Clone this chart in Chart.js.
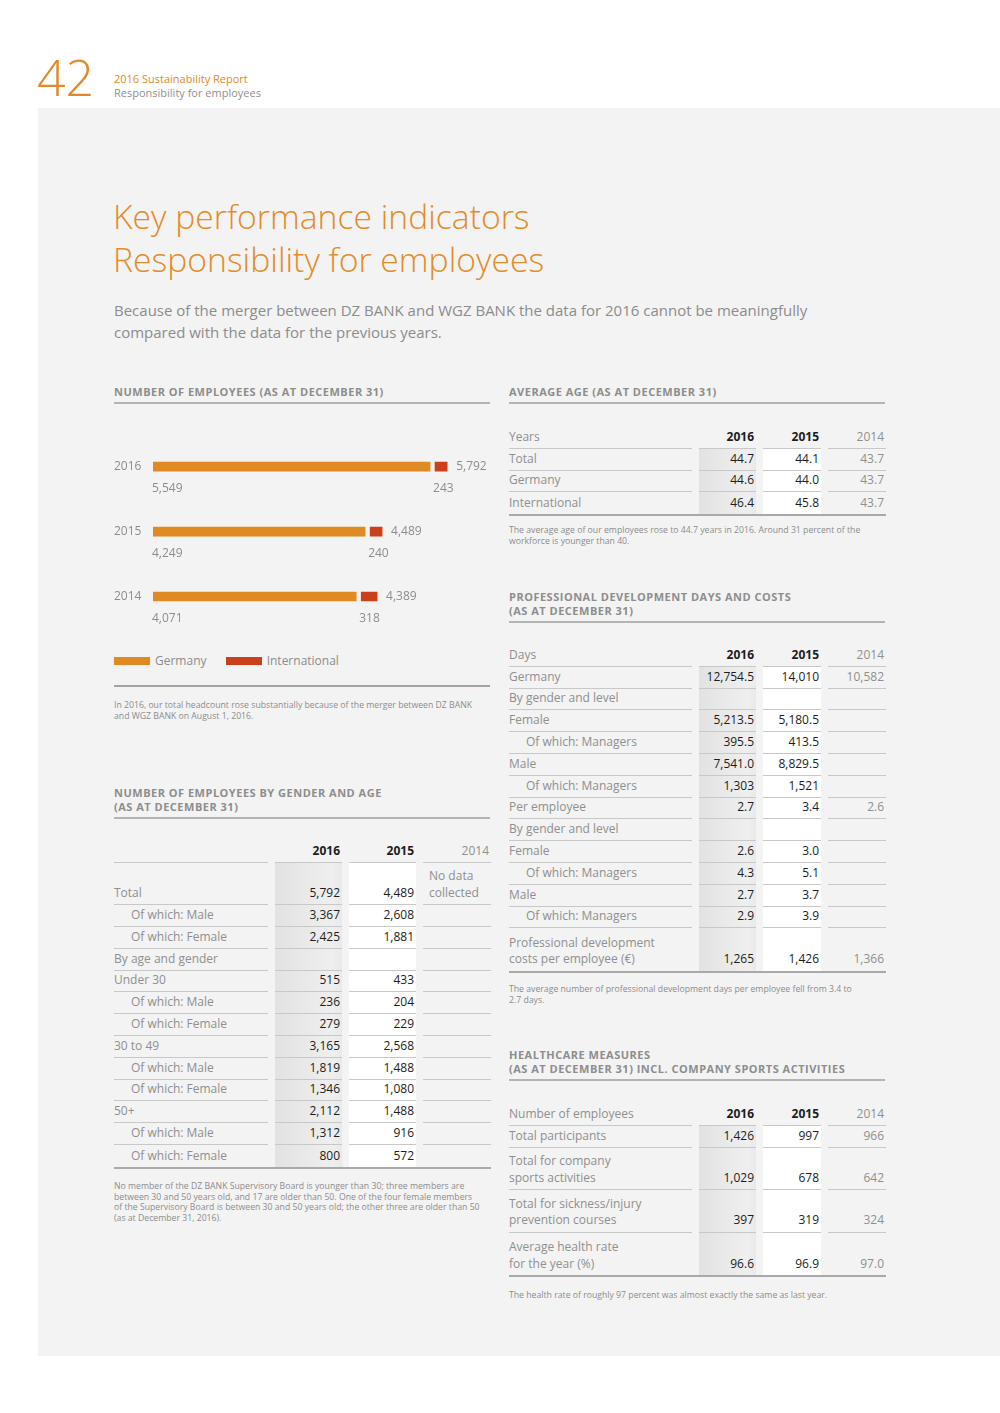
<!DOCTYPE html>
<html>
<head>
<meta charset="utf-8">
<title>Key performance indicators - Responsibility for employees</title>
<script src="https://cdn.jsdelivr.net/npm/chart.js@4.4.0/dist/chart.umd.min.js"></script>
<style>
body { margin: 0; background: #fff; font-family: "Open Sans", sans-serif; }
#page { position: relative; width: 1000px; height: 1413px; overflow: hidden; }
.panel { position: absolute; left: 38px; top: 108px; width: 962px; height: 1248px; background: #f3f3f3; }
.abs { position: absolute; }
.pageno { left: 37px; top: 49px; font-size: 50px; font-weight: 300; color: #e0892a; line-height: 56px; }
.runhead { left: 114px; top: 72px; font-size: 11px; line-height: 14px; color: #8f8f8f; }
.runhead .o { color: #e0892a; }
.title { left: 113px; top: 195px; font-size: 33.7px; font-weight: 300; line-height: 43px; color: #e48c2a; }
.intro { left: 114px; top: 299px; font-size: 15px; line-height: 22px; color: #8c8c8c; }
.sechead { font-size: 11px; letter-spacing: 0.5px; font-weight: bold; line-height: 14px; color: #8d8d8d; width: 376px; padding-bottom: 3px; border-bottom: 2px solid #b4b4b4; }
.note { font-size: 8.7px; line-height: 10.7px; color: #8c8c8c; width: 390px; }
.legend { left: 114px; top: 652px; font-size: 12px; color: #8c8c8c; line-height: 18px; }
.legend span.box { display: inline-block; width: 36px; height: 8px; vertical-align: middle; margin-right: 5px; position: relative; top: -1px; }
.divider { left: 114px; top: 685px; width: 376px; height: 2px; background: #a3a3a3; }
table.kpi { border-collapse: separate; border-spacing: 7px 0; margin-left: -7px; table-layout: fixed; width: 391px; font-size: 12px; }
table.kpi td { box-sizing: border-box; height: 21.8px; padding: 0 2px 3px 0; vertical-align: bottom; line-height: 16px; border-bottom: 1.5px solid #c8c8c8; white-space: nowrap; }
table.kpi td.lb { color: #8f8f8f; text-align: left; }
table.kpi td.c16 { background: linear-gradient(to right, #e2e2e2, #efefef 85%, #e9e9e9); text-align: right; color: #1c1c1c; }
table.kpi td.c15 { background: #fff; text-align: right; color: #1c1c1c; }
table.kpi td.c14 { text-align: right; color: #8f8f8f; }
table.kpi tr.hd td { background: none; color: #1c1c1c; font-weight: bold; }
table.kpi tr.hd td.lb, table.kpi tr.hd td.c14 { font-weight: normal; color: #8f8f8f; }
table.kpi tr.in td.lb { padding-left: 17px; }
table.kpi tr.tw td { height: 42.5px; line-height: 16.5px; }
table.kpi tr.last td { border-bottom: none; }
table.kpi td.nodata { text-align: left; padding-left: 6px; }
.tblwrap { border-bottom: 2px solid #a9a9a9; width: 377px; }
</style>
</head>
<body>
<div id="page">
  <div class="abs pageno">42</div>
  <div class="abs runhead"><span class="o">2016 Sustainability Report</span><br>Responsibility for employees</div>
  <div class="panel"></div>

  <div class="abs title">Key performance indicators<br>Responsibility for employees</div>
  <div class="abs intro">Because of the merger between DZ BANK and WGZ BANK the data for 2016 cannot be meaningfully<br>compared with the data for the previous years.</div>

  <!-- left column -->
  <div class="abs sechead" style="left:114px; top:385px;">NUMBER OF EMPLOYEES (AS AT DECEMBER 31)</div>
  <div class="abs" style="left:114px; top:427px; width:376px; height:210px;"><canvas id="empChart"></canvas></div>
  <div class="abs legend">
    <span class="box" style="background:#df8a22"></span>Germany
    <span class="box" style="background:#cb3f1a; margin-left:16px"></span>International
  </div>
  <div class="abs divider"></div>
  <div class="abs note" style="left:114px; top:700px;">In 2016, our total headcount rose substantially because of the merger between DZ BANK<br>and WGZ BANK on August 1, 2016.</div>

  <div class="abs sechead" style="left:114px; top:786px;">NUMBER OF EMPLOYEES BY GENDER AND AGE<br>(AS AT DECEMBER 31)</div>
  <div class="abs tblwrap" style="left:114px; top:841px;"><table class="kpi" id="tblGender"><colgroup><col style="width:154px"><col style="width:67px"><col style="width:67px"><col style="width:68px"></colgroup></table></div>
  <div class="abs note" style="left:114px; top:1181px;">No member of the DZ BANK Supervisory Board is younger than 30; three members are<br>between 30 and 50 years old, and 17 are older than 50. One of the four female members<br>of the Supervisory Board is between 30 and 50 years old; the other three are older than 50<br>(as at December 31, 2016).</div>

  <!-- right column -->
  <div class="abs sechead" style="left:509px; top:385px;">AVERAGE AGE (AS AT DECEMBER 31)</div>
  <div class="abs tblwrap" style="left:509px; top:427px;"><table class="kpi" id="tblAge"><colgroup><col style="width:183px"><col style="width:57px"><col style="width:58px"><col style="width:58px"></colgroup></table></div>
  <div class="abs note" style="left:509px; top:525px;">The average age of our employees rose to 44.7 years in 2016. Around 31 percent of the<br>workforce is younger than 40.</div>

  <div class="abs sechead" style="left:509px; top:590px;">PROFESSIONAL DEVELOPMENT DAYS AND COSTS<br>(AS AT DECEMBER 31)</div>
  <div class="abs tblwrap" style="left:509px; top:645px;"><table class="kpi" id="tblDays"><colgroup><col style="width:183px"><col style="width:57px"><col style="width:58px"><col style="width:58px"></colgroup></table></div>
  <div class="abs note" style="left:509px; top:984px;">The average number of professional development days per employee fell from 3.4 to<br>2.7 days.</div>

  <div class="abs sechead" style="left:509px; top:1048px;">HEALTHCARE MEASURES<br>(AS AT DECEMBER 31) INCL. COMPANY SPORTS ACTIVITIES</div>
  <div class="abs tblwrap" style="left:509px; top:1104px;"><table class="kpi" id="tblHealth"><colgroup><col style="width:183px"><col style="width:57px"><col style="width:58px"><col style="width:58px"></colgroup></table></div>
  <div class="abs note" style="left:509px; top:1290px;">The health rate of roughly 97 percent was almost exactly the same as last year.</div>
</div>

<script>
// ================== Chart data ==================
const years = ['2016', '2015', '2014'];
const germany = [5549, 4249, 4071];
const international = [243, 240, 318];
const totals = [5792, 4489, 4389];

// ================== Table data ==================
// [label, 2016, 2015, 2014, row class]
const genderRows = [
    ['Total', '5,792', '4,489', 'No data<br>collected', 'tw'],
    ['Of which: Male', '3,367', '2,608', '', 'in'],
    ['Of which: Female', '2,425', '1,881', '', 'in'],
    ['By age and gender', '', '', '', ''],
    ['Under 30', '515', '433', '', ''],
    ['Of which: Male', '236', '204', '', 'in'],
    ['Of which: Female', '279', '229', '', 'in'],
    ['30 to 49', '3,165', '2,568', '', ''],
    ['Of which: Male', '1,819', '1,488', '', 'in'],
    ['Of which: Female', '1,346', '1,080', '', 'in'],
    ['50+', '2,112', '1,488', '', ''],
    ['Of which: Male', '1,312', '916', '', 'in'],
    ['Of which: Female', '800', '572', '', 'in']
];
const ageRows = [
    ['Total', '44.7', '44.1', '43.7', ''],
    ['Germany', '44.6', '44.0', '43.7', ''],
    ['International', '46.4', '45.8', '43.7', '']
];
const daysRows = [
    ['Germany', '12,754.5', '14,010', '10,582', ''],
    ['By gender and level', '', '', '', ''],
    ['Female', '5,213.5', '5,180.5', '', ''],
    ['Of which: Managers', '395.5', '413.5', '', 'in'],
    ['Male', '7,541.0', '8,829.5', '', ''],
    ['Of which: Managers', '1,303', '1,521', '', 'in'],
    ['Per employee', '2.7', '3.4', '2.6', ''],
    ['By gender and level', '', '', '', ''],
    ['Female', '2.6', '3.0', '', ''],
    ['Of which: Managers', '4.3', '5.1', '', 'in'],
    ['Male', '2.7', '3.7', '', ''],
    ['Of which: Managers', '2.9', '3.9', '', 'in'],
    ['Professional development<br>costs per employee (€)', '1,265', '1,426', '1,366', 'tw']
];
const healthRows = [
    ['Total participants', '1,426', '997', '966', ''],
    ['Total for company<br>sports activities', '1,029', '678', '642', 'tw'],
    ['Total for sickness/injury<br>prevention courses', '397', '319', '324', 'tw'],
    ['Average health rate<br>for the year (%)', '96.6', '96.9', '97.0', 'tw']
];

function buildTable(id, head, rows) {
    const t = document.getElementById(id);
    let html = `<tr class="hd"><td class="lb">${head}</td><td class="c16">2016</td><td class="c15">2015</td><td class="c14">2014</td></tr>`;
    rows.forEach((r, i) => {
        const cls = r[4] + (i === rows.length - 1 ? ' last' : '');
        const c14 = r[3].indexOf('<br>') > -1 ? 'c14 nodata' : 'c14';
        html += `<tr class="${cls}"><td class="lb">${r[0]}</td><td class="c16">${r[1]}</td><td class="c15">${r[2]}</td><td class="${c14}">${r[3]}</td></tr>`;
    });
    t.insertAdjacentHTML('beforeend', html);
}

buildTable('tblGender', '', genderRows);
buildTable('tblAge', 'Years', ageRows);
buildTable('tblDays', 'Days', daysRows);
buildTable('tblHealth', 'Number of employees', healthRows);

// ================== Chart ==================
Chart.defaults.font.family = '"Open Sans", sans-serif';
Chart.defaults.color = '#8c8c8c';

const GAP = 5; // space between Germany and International bars

// shift the International bars a little to the right
const gapPlugin = {
    id: 'gapPlugin',
    beforeDatasetDraw(chart, args) {
        if (args.index === 1) {
            chart.ctx.save();
            chart.ctx.translate(GAP, 0);
        }
    },
    afterDatasetDraw(chart, args) {
        if (args.index === 1) chart.ctx.restore();
    }
};

// value labels: totals at end, parts below bars
const valuePlugin = {
    id: 'valuePlugin',
    afterDatasetsDraw(chart) {
        const ctx = chart.ctx;
        const de = chart.getDatasetMeta(0).data;
        const intl = chart.getDatasetMeta(1).data;
        ctx.save();
        ctx.font = '12px "Open Sans", sans-serif';
        ctx.fillStyle = '#8c8c8c';
        ctx.textBaseline = 'middle';
        ctx.textAlign = 'left';
        years.forEach((y, i) => {
            const fmt = v => v.toLocaleString('en-US');
            ctx.fillText(fmt(totals[i]), intl[i].x + GAP + 9, intl[i].y);
            ctx.fillText(fmt(germany[i]), de[i].base - 1, de[i].y + 22);
            ctx.fillText(fmt(international[i]), intl[i].base + GAP - 2, intl[i].y + 22);
        });
        ctx.restore();
    }
};

new Chart(document.getElementById('empChart'), {
    type: 'bar',
    data: {
        labels: years,
        datasets: [
            { label: 'Germany', data: germany, backgroundColor: '#df8a22', barThickness: 9 },
            { label: 'International', data: international, backgroundColor: '#cb3f1a', barThickness: 9 }
        ]
    },
    options: {
        indexAxis: 'y',
        responsive: true,
        maintainAspectRatio: false,
        animation: false,
        layout: { padding: { top: 7, bottom: 8, left: 0, right: 0 } },
        plugins: { legend: { display: false }, tooltip: { enabled: false } },
        scales: {
            x: { stacked: true, min: 0, max: 6750, display: false },
            y: {
                stacked: true,
                grid: { display: false },
                border: { display: false },
                ticks: { color: '#8c8c8c', font: { size: 12 }, crossAlign: 'far', padding: 0 },
                afterFit(scale) { scale.width = 39; }
            }
        }
    },
    plugins: [gapPlugin, valuePlugin]
});
</script>
</body>
</html>
